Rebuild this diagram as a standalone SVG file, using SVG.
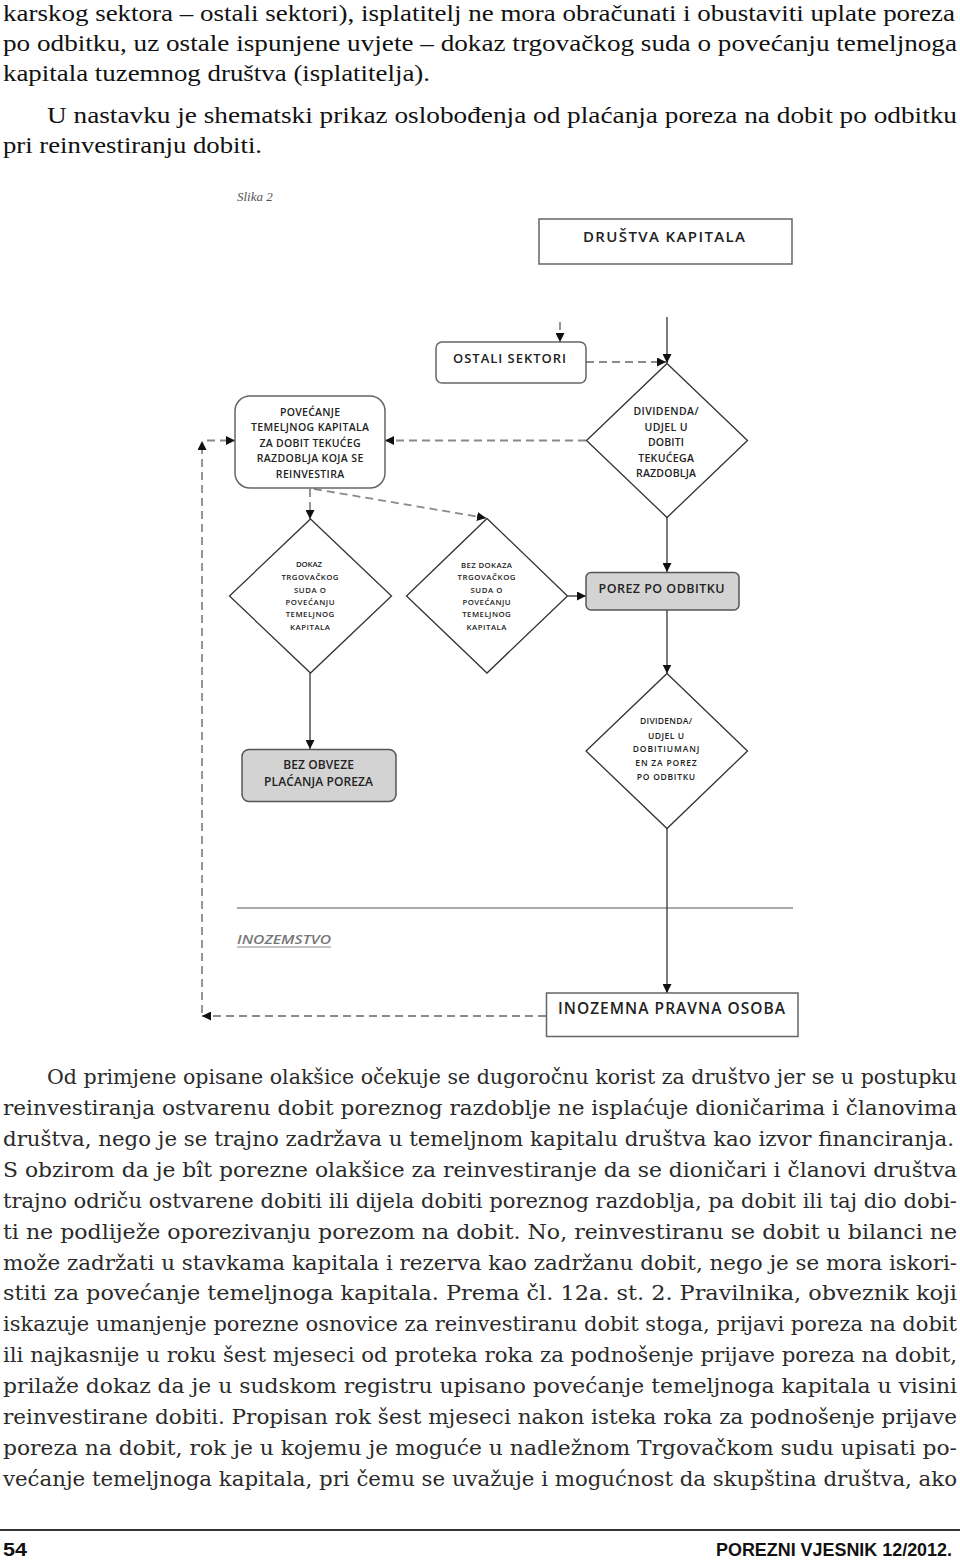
<svg xmlns="http://www.w3.org/2000/svg" width="960" height="1562" viewBox="0 0 960 1562">
<style>
.body{font-family:"DejaVu Serif","Liberation Serif",serif;font-size:19.5px;fill:#2a2a2a}
.top{font-family:"Liberation Serif",serif;font-size:23px;fill:#111}
.lbl{font-family:"Open Sans","Noto Sans",sans-serif;font-weight:600;fill:#222;text-anchor:middle}
.box{fill:#fff;stroke:#666;stroke-width:1.5}
.gbox{fill:#d3d3d3;stroke:#555;stroke-width:1.5}
.dia{fill:#fff;stroke:#333;stroke-width:1.3}
.solid{stroke:#333;stroke-width:1.3;fill:none}
.dash{stroke:#8a8a8a;stroke-width:1.8;stroke-dasharray:8 5;fill:none}
</style>
<defs>
<marker id="arr" viewBox="0 0 10 10" refX="10" refY="5" markerWidth="9" markerHeight="9" markerUnits="userSpaceOnUse" orient="auto">
<path d="M0,0 L10,5 L0,10 z" fill="#111"/>
</marker>
</defs>
<rect width="960" height="1562" fill="#fff"/>

<g id="intro-text">
<text class="top" x="3" y="21" textLength="952" lengthAdjust="spacingAndGlyphs">karskog sektora – ostali sektori), isplatitelj ne mora obračunati i obustaviti uplate poreza</text>
<text class="top" x="3" y="51" textLength="954" lengthAdjust="spacingAndGlyphs">po odbitku, uz ostale ispunjene uvjete – dokaz trgovačkog suda o povećanju temeljnoga</text>
<text class="top" x="3" y="81" textLength="427" lengthAdjust="spacingAndGlyphs">kapitala tuzemnog društva (isplatitelja).</text>
<text class="top" x="47" y="123" textLength="910" lengthAdjust="spacingAndGlyphs">U nastavku je shematski prikaz oslobođenja od plaćanja poreza na dobit po odbitku</text>
<text class="top" x="3" y="153" textLength="259" lengthAdjust="spacingAndGlyphs">pri reinvestiranju dobiti.</text>
</g>

<text id="caption" x="237" y="201" font-family="Liberation Serif, serif" font-style="italic" font-size="13" fill="#555">Slika 2</text>

<g id="separator">
<line x1="237" y1="908" x2="793" y2="908" stroke="#aaa" stroke-width="2"/>
<text x="237" y="943.6" font-family="Open Sans, Noto Sans, sans-serif" font-style="italic" font-weight="600" font-size="13" fill="#777" textLength="94" lengthAdjust="spacingAndGlyphs">INOZEMSTVO</text>
<line x1="237" y1="947" x2="331" y2="947" stroke="#888" stroke-width="1"/>
</g>

<g id="connectors">
<line class="solid" x1="667" y1="317" x2="667" y2="363" marker-end="url(#arr)"/>
<line class="dash" x1="560" y1="322" x2="560" y2="342" marker-end="url(#arr)"/>
<line class="dash" x1="586" y1="362" x2="666" y2="362" marker-end="url(#arr)"/>
<line class="dash" x1="586" y1="440.5" x2="385" y2="440.5" marker-end="url(#arr)"/>
<line class="dash" x1="310" y1="489" x2="310" y2="519" marker-end="url(#arr)"/>
<line class="dash" x1="314" y1="489" x2="486" y2="518" marker-end="url(#arr)"/>
<line class="solid" x1="667" y1="517" x2="667" y2="572" marker-end="url(#arr)"/>
<line class="solid" x1="568" y1="596" x2="586" y2="596" marker-end="url(#arr)"/>
<line class="solid" x1="310" y1="673" x2="310" y2="749" marker-end="url(#arr)"/>
<line class="solid" x1="667" y1="610" x2="667" y2="673.5" marker-end="url(#arr)"/>
<line class="solid" x1="667" y1="828" x2="667" y2="993" marker-end="url(#arr)"/>
<line class="dash" x1="546" y1="1016" x2="202" y2="1016" marker-end="url(#arr)"/>
<line class="dash" x1="202" y1="1013" x2="202" y2="441" marker-end="url(#arr)"/>
<line class="dash" x1="207" y1="440.5" x2="235" y2="440.5" marker-end="url(#arr)"/>
</g>

<g id="drustva-kapitala">
<rect class="box" x="539" y="219" width="253" height="45"/>
<text class="lbl" x="664" y="242" font-size="15" textLength="162">DRUŠTVA KAPITALA</text>
</g>

<g id="ostali-sektori">
<rect class="box" x="436" y="342" width="150" height="41" rx="6"/>
<text class="lbl" x="509.5" y="362.6" font-size="13" textLength="113">OSTALI SEKTORI</text>
</g>

<g id="povecanje">
<rect class="box" x="235" y="396" width="150" height="92" rx="15"/>
<text class="lbl" x="310" y="415.7" font-size="10.5" textLength="60">POVEĆANJE</text>
<text class="lbl" x="310" y="431.4" font-size="10.5" textLength="118">TEMELJNOG KAPITALA</text>
<text class="lbl" x="310" y="446.7" font-size="10.5" textLength="101">ZA DOBIT  TEKUĆEG</text>
<text class="lbl" x="310" y="462.4" font-size="10.5" textLength="106.7">RAZDOBLJA KOJA SE</text>
<text class="lbl" x="310" y="477.7" font-size="10.5" textLength="68.3">REINVESTIRA</text>
</g>

<g id="dividenda-tekuceg">
<polygon class="dia" points="667,363.5 747.5,440.5 667,517.5 586.5,440.5"/>
<text class="lbl" x="666" y="415.4" font-size="10.5" textLength="65">DIVIDENDA/</text>
<text class="lbl" x="666" y="430.7" font-size="10.5" textLength="43">UDJEL U</text>
<text class="lbl" x="666" y="446.2" font-size="10.5" textLength="36">DOBITI</text>
<text class="lbl" x="666" y="461.7" font-size="10.5" textLength="55.7">TEKUĆEGA</text>
<text class="lbl" x="666" y="477.2" font-size="10.5" textLength="60">RAZDOBLJA</text>
</g>

<g id="dokaz">
<polygon class="dia" points="310.5,519 391.5,596 310.5,673 229.5,596"/>
<text class="lbl" x="309" y="567.1" font-size="7.8" textLength="26">DOKAZ</text>
<text class="lbl" x="310" y="580.1" font-size="7.8" textLength="57">TRGOVAČKOG</text>
<text class="lbl" x="310" y="592.8" font-size="7.8" textLength="32">SUDA O</text>
<text class="lbl" x="310" y="604.5" font-size="7.8" textLength="49">POVEĆANJU</text>
<text class="lbl" x="310" y="617" font-size="7.8" textLength="48.5">TEMELJNOG</text>
<text class="lbl" x="310" y="629.5" font-size="7.8" textLength="40">KAPITALA</text>
</g>

<g id="bez-dokaza">
<polygon class="dia" points="487,518.5 567.5,596 487,673 406.5,596"/>
<text class="lbl" x="486.5" y="567.6" font-size="7.8" textLength="51">BEZ DOKAZA</text>
<text class="lbl" x="486.5" y="580.3" font-size="7.8" textLength="58">TRGOVAČKOG</text>
<text class="lbl" x="486.5" y="592.8" font-size="7.8" textLength="32">SUDA O</text>
<text class="lbl" x="486.5" y="604.5" font-size="7.8" textLength="48">POVEĆANJU</text>
<text class="lbl" x="486.5" y="617" font-size="7.8" textLength="48.5">TEMELJNOG</text>
<text class="lbl" x="486.5" y="629.5" font-size="7.8" textLength="40">KAPITALA</text>
</g>

<g id="porez-po-odbitku">
<rect class="gbox" x="586" y="572.5" width="153" height="37.5" rx="5"/>
<text class="lbl" x="661.5" y="592.5" font-size="12.5" textLength="126">POREZ PO ODBITKU</text>
</g>

<g id="bez-obveze">
<rect class="gbox" x="242" y="749.5" width="154" height="52" rx="7"/>
<text class="lbl" x="318.5" y="769.3" font-size="12" textLength="70.7">BEZ OBVEZE</text>
<text class="lbl" x="318.5" y="786" font-size="12" textLength="109">PLAĆANJA POREZA</text>
</g>

<g id="dividenda-umanjena">
<polygon class="dia" points="667,673.5 747.5,751 667,828.5 586,751"/>
<text class="lbl" x="666" y="724" font-size="8.5" textLength="52">DIVIDENDA/</text>
<text class="lbl" x="666" y="739" font-size="8.5" textLength="36">UDJEL U</text>
<text class="lbl" x="666" y="752" font-size="8.5" textLength="66.7">DOBITIUMANJ</text>
<text class="lbl" x="666" y="766.3" font-size="8.5" textLength="61.3">EN ZA POREZ</text>
<text class="lbl" x="666" y="779.7" font-size="8.5" textLength="58.3">PO ODBITKU</text>
</g>

<g id="inozemna-pravna-osoba">
<rect class="box" x="546.5" y="993" width="251.5" height="43.5"/>
<text class="lbl" x="671.5" y="1013.5" font-size="15.5" textLength="227">INOZEMNA PRAVNA OSOBA</text>
</g>

<g id="body-text">
<text class="body" x="47" y="1084" textLength="910" lengthAdjust="spacingAndGlyphs">Od primjene opisane olakšice očekuje se dugoročnu korist za društvo jer se u postupku</text>
<text class="body" x="3" y="1115" textLength="954" lengthAdjust="spacingAndGlyphs">reinvestiranja ostvarenu dobit poreznog razdoblje ne isplaćuje dioničarima i članovima</text>
<text class="body" x="3" y="1146" textLength="951" lengthAdjust="spacingAndGlyphs">društva, nego je se trajno zadržava u temeljnom kapitalu društva kao izvor financiranja.</text>
<text class="body" x="3" y="1177" textLength="954" lengthAdjust="spacingAndGlyphs">S obzirom da je bît porezne olakšice za reinvestiranje da se dioničari i članovi društva</text>
<text class="body" x="3" y="1208" textLength="954" lengthAdjust="spacingAndGlyphs">trajno odriču ostvarene dobiti ili dijela dobiti poreznog razdoblja, pa dobit ili taj dio dobi-</text>
<text class="body" x="3" y="1238.6" textLength="954" lengthAdjust="spacingAndGlyphs">ti ne podliježe oporezivanju porezom na dobit. No, reinvestiranu se dobit u bilanci ne</text>
<text class="body" x="3" y="1269.5" textLength="954" lengthAdjust="spacingAndGlyphs">može zadržati u stavkama kapitala i rezerva kao zadržanu dobit, nego je se mora iskori-</text>
<text class="body" x="3" y="1300.4" textLength="954" lengthAdjust="spacingAndGlyphs">stiti za povećanje temeljnoga kapitala. Prema čl. 12a. st. 2. Pravilnika, obveznik koji</text>
<text class="body" x="3" y="1331.4" textLength="954" lengthAdjust="spacingAndGlyphs">iskazuje umanjenje porezne osnovice za reinvestiranu dobit stoga, prijavi poreza na dobit</text>
<text class="body" x="3" y="1362.3" textLength="954" lengthAdjust="spacingAndGlyphs">ili najkasnije u roku šest mjeseci od proteka roka za podnošenje prijave poreza na dobit,</text>
<text class="body" x="3" y="1393.2" textLength="954" lengthAdjust="spacingAndGlyphs">prilaže dokaz da je u sudskom registru upisano povećanje temeljnoga kapitala u visini</text>
<text class="body" x="3" y="1424.1" textLength="954" lengthAdjust="spacingAndGlyphs">reinvestirane dobiti. Propisan rok šest mjeseci nakon isteka roka za podnošenje prijave</text>
<text class="body" x="3" y="1455" textLength="954" lengthAdjust="spacingAndGlyphs">poreza na dobit, rok je u kojemu je moguće u nadležnom Trgovačkom sudu upisati po-</text>
<text class="body" x="3" y="1486" textLength="954" lengthAdjust="spacingAndGlyphs">većanje temeljnoga kapitala, pri čemu se uvažuje i mogućnost da skupština društva, ako</text>
</g>

<g id="footer">
<line x1="0" y1="1530" x2="960" y2="1530" stroke="#333" stroke-width="2"/>
<text x="3" y="1556" font-family="Liberation Sans, sans-serif" font-weight="bold" font-size="18" fill="#111" textLength="24" lengthAdjust="spacingAndGlyphs">54</text>
<text x="716" y="1556" font-family="Liberation Sans, sans-serif" font-weight="bold" font-size="18" fill="#111" textLength="236" lengthAdjust="spacingAndGlyphs">POREZNI VJESNIK 12/2012.</text>
</g>
</svg>
